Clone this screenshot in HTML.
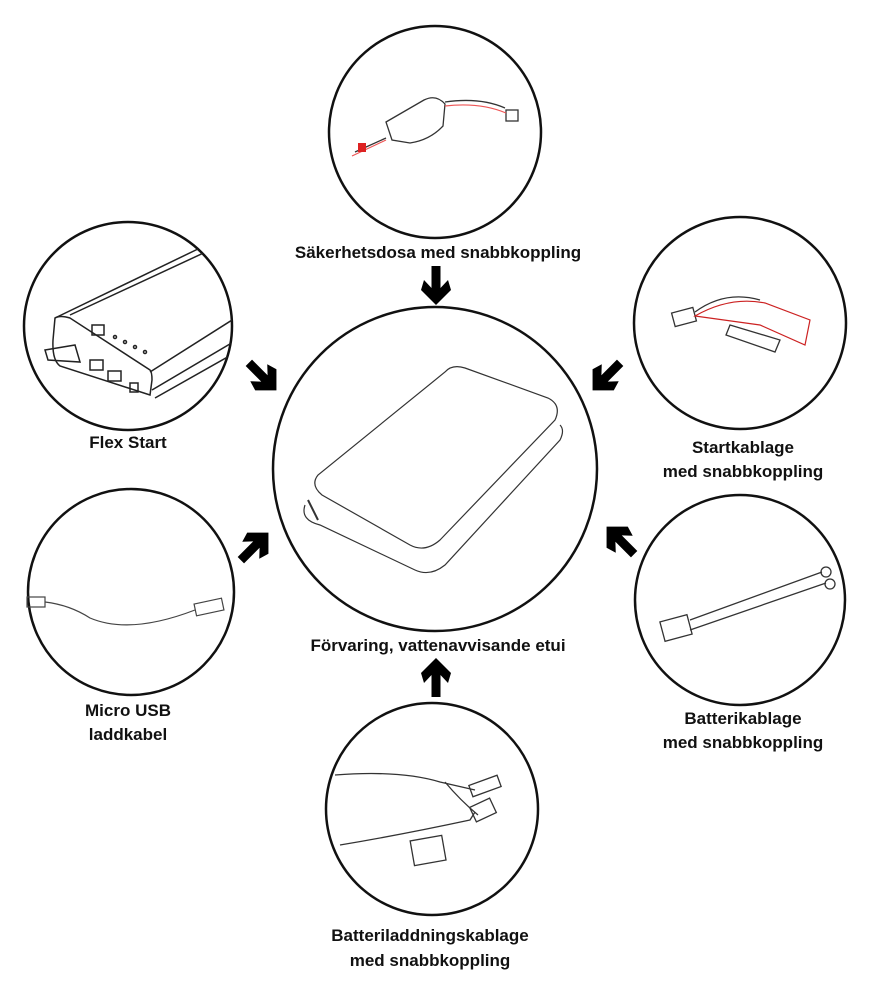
<!DOCTYPE html>
<html><head><meta charset="utf-8"><style>
html,body{margin:0;padding:0;background:#fff;width:869px;height:999px;overflow:hidden}
svg{display:block}
text{font-family:"Liberation Sans",sans-serif;font-weight:bold;font-size:17px;fill:#111;text-anchor:middle}
</style></head><body>
<svg width="869" height="999" viewBox="0 0 869 999">
<defs>
<clipPath id="cf"><circle cx="128" cy="326" r="104"/></clipPath>
<g id="arr"><polygon points="-4.5,-20 4.5,-20 4.5,2 12,-6 15,4 0,19 -15,4 -12,-6 -4.5,2" fill="#000"/></g>
</defs>
<g fill="none" stroke="#111" stroke-width="2.5">
<circle cx="435" cy="132" r="106"/>
<circle cx="435" cy="469" r="162"/>
<circle cx="128" cy="326" r="104"/>
<circle cx="740" cy="323" r="106"/>
<circle cx="131" cy="592" r="103"/>
<circle cx="740" cy="600" r="105"/>
<circle cx="432" cy="809" r="106"/>
</g>
<!-- center case -->
<g fill="none" stroke="#333" stroke-width="1.2">
<path d="M318,475 Q310,485 322,495 L410,545 Q425,553 440,540 L555,420 Q562,405 548,398 L465,368 Q452,364 445,372 Z"/>
<path d="M305,505 Q300,520 320,525 L415,570 Q430,577 445,565 L560,440 Q565,430 560,425"/>
<path d="M308,500 L318,520" stroke-width="2"/>
</g>
<!-- top item -->
<g fill="none" stroke="#333" stroke-width="1.3">
<path d="M386,122 L424,100 Q436,94 445,104 L443,126 Q430,140 410,143 L392,140 Z"/>
<path d="M445,102 Q480,97 505,108"/><path d="M386,138 L355,152"/>
<rect x="506" y="110" width="12" height="11"/>
</g>
<path d="M445,106 Q480,102 506,113 M386,140 L352,156" stroke="#e55" stroke-width="1.2" fill="none"/>
<rect x="358" y="143" width="8" height="9" fill="#d22"/>
<!-- flex start -->
<g fill="none" stroke="#222" stroke-width="1.5" clip-path="url(#cf)">
<path d="M55,318 L200,248"/><path d="M70,315 L210,250"/>
<path d="M55,318 Q60,315 70,318 L150,370 Q152,372 152,380 L150,395 L60,366 Q52,360 53,340 Z"/>
<path d="M150,372 L240,315"/><path d="M152,390 L240,338"/><path d="M155,398 L240,350"/>
<rect x="92" y="325" width="12" height="10"/>
<circle cx="115" cy="337" r="1.5"/><circle cx="125" cy="342" r="1.5"/><circle cx="135" cy="347" r="1.5"/><circle cx="145" cy="352" r="1.5"/>
<rect x="90" y="360" width="13" height="10"/><rect x="108" y="371" width="13" height="10"/><rect x="130" y="383" width="8" height="9"/>
<path d="M45,350 L75,345 L80,362 L48,360 Z"/>
</g>
<!-- startkablage -->
<g fill="none" stroke="#333" stroke-width="1.3">
<rect x="673" y="310" width="22" height="14" transform="rotate(-15 684 317)"/>
<path d="M695,312 Q725,290 760,300"/>
<path d="M730,325 L780,340 L775,352 L726,335 Z"/>
</g>
<path d="M695,316 Q730,296 765,303 L810,320 L805,345 L760,325 Z" fill="none" stroke="#c22" stroke-width="1.2"/>
<!-- micro usb -->
<g fill="none" stroke="#444" stroke-width="1.2">
<path d="M45,602 Q70,605 90,618 Q130,635 195,610"/>
<rect x="27" y="597" width="18" height="10"/>
<rect x="195" y="601" width="28" height="12" transform="rotate(-12 209 607)"/>
</g>
<!-- batterikablage -->
<g fill="none" stroke="#333" stroke-width="1.3">
<rect x="662" y="618" width="28" height="20" transform="rotate(-15 676 628)"/>
<path d="M690,620 L822,572 M690,630 L826,583"/>
<circle cx="826" cy="572" r="5"/><circle cx="830" cy="584" r="5"/>
</g>
<!-- bottom item -->
<g fill="none" stroke="#333" stroke-width="1.3">
<path d="M335,775 Q400,770 440,782 L475,790"/>
<path d="M340,845 Q400,835 470,820 L475,812"/>
<path d="M445,782 Q460,800 478,815"/>
<rect x="412" y="838" width="32" height="25" transform="rotate(-10 428 850)"/>
<rect x="472" y="802" width="22" height="16" transform="rotate(-25 483 810)"/>
<rect x="470" y="780" width="30" height="12" transform="rotate(-20 485 786)"/>
</g>
<!-- arrows -->
<use href="#arr" transform="translate(436,286)"/>
<use href="#arr" transform="translate(263,377) rotate(-45)"/>
<use href="#arr" transform="translate(606,377) rotate(45)"/>
<use href="#arr" transform="translate(255,546) rotate(-135)"/>
<use href="#arr" transform="translate(620,540) rotate(135)"/>
<use href="#arr" transform="translate(436,677) rotate(180)"/>
<!-- labels -->
<text x="438" y="258">Säkerhetsdosa med snabbkoppling</text>
<text x="128" y="448">Flex Start</text>
<text x="743" y="453">Startkablage</text>
<text x="743" y="477">med snabbkoppling</text>
<text x="438" y="651">Förvaring, vattenavvisande etui</text>
<text x="128" y="716">Micro USB</text>
<text x="128" y="740">laddkabel</text>
<text x="743" y="724">Batterikablage</text>
<text x="743" y="748">med snabbkoppling</text>
<text x="430" y="941">Batteriladdningskablage</text>
<text x="430" y="966">med snabbkoppling</text>
</svg>
</body></html>
